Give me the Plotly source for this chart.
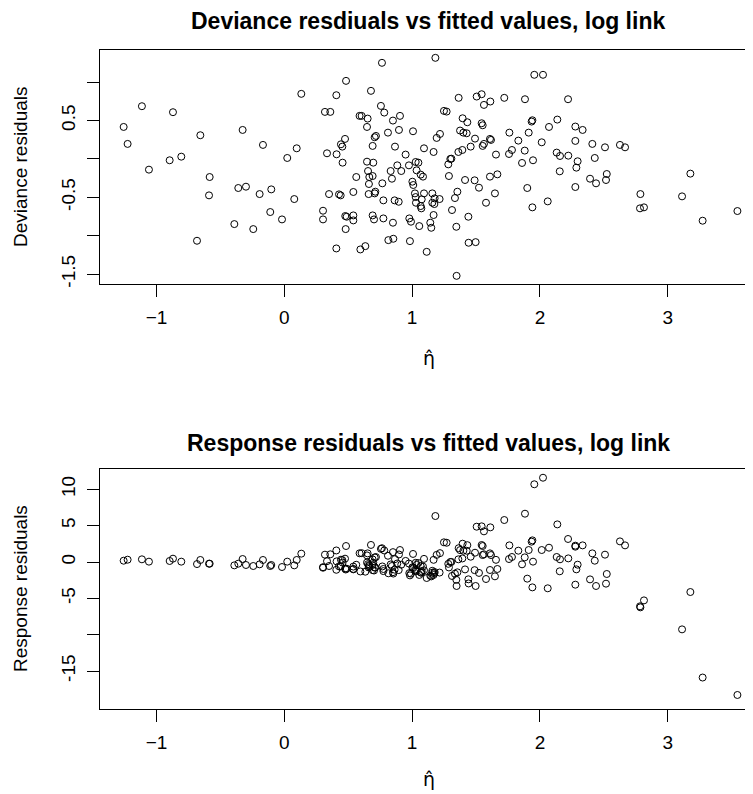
import plotly.graph_objects as go

# fitted linear predictor (eta hat)
eta_hat = [
    -1.257, -1.226, -1.114, -1.059, -0.897, -0.871, -0.806, -0.683, -0.657, -0.589,
    -0.584, -0.391, -0.360, -0.326, -0.300, -0.243, -0.193, -0.167, -0.102, -0.110,
    -0.018, 0.023, 0.097, 0.078, 0.133, 0.303, 0.303, 0.318, 0.360, 0.350,
    0.334, 0.407, 0.409, 0.407, 0.428, 0.441, 0.456, 0.443, 0.454, 0.475,
    0.483, 0.477, 0.488, 0.540, 0.540, 0.480, 0.540, 0.563, 0.589, 0.605,
    0.595, 0.634, 0.647, 0.652, 0.678, 0.647, 0.696, 0.655, 0.665, 0.691,
    0.662, 0.660, 0.707, 0.712, 0.691, 0.707, 0.717, 0.691, 0.702, 0.756,
    0.782, 0.764, 0.767, 0.775, 0.775, 0.811, 0.814, 0.853, 0.832, 0.842,
    0.850, 0.905, 0.850, 0.866, 0.863, 0.895, 0.884, 0.915, 0.897, 0.949,
    0.975, 0.978, 0.991, 0.983, 1.007, 1.002, 1.009, 1.028, 1.049, 1.035,
    1.067, 1.085, 1.022, 1.028, 1.075, 1.030, 1.067, 1.072, 1.093, 1.093,
    1.056, 1.114, 1.142, 1.150, 1.168, 1.168, 1.158, 1.158, 1.174, 1.215,
    1.176, 1.182, 1.192, 1.218, 1.249, 1.270, 1.283, 1.299, 1.307, 1.288,
    1.312, 1.335, 1.346, 1.348, 1.354, 1.364, 1.362, 1.393, 1.375, 1.401,
    1.427, 1.395, 1.432, 1.414, 1.440, 1.442, 1.497, 1.458, 1.492, 1.489,
    1.505, 1.523, 1.544, 1.562, 1.612, 1.544, 1.552, 1.552, 1.562, 1.609,
    1.617, 1.656, 1.609, 1.667, 1.578, 1.648, 1.721, 1.883, 1.956, 2.024,
    1.761, 1.831, 1.758, 1.781, 1.881, 1.860, 1.912, 1.935, 1.941, 1.946,
    2.014, 1.901, 1.941, 2.061, 2.071, 2.136, 2.220, 2.131, 2.157, 2.222,
    2.277, 2.334, 2.277, 2.295, 2.285, 2.155, 2.410, 2.429, 2.509, 2.626,
    2.666, 2.392, 2.439, 2.523, 2.517, 2.277, 2.786, 2.783, 2.814, 3.177,
    3.112, 3.273, 3.545,
]

dev_resid = [
    0.417, 0.196, 0.687, -0.139, -0.017, 0.609, 0.030, -1.065, 0.309, -0.474,
    -0.235, -0.848, -0.378, 0.378, -0.361, -0.913, -0.457, 0.183, -0.396, -0.691,
    -0.787, 0.013, 0.139, -0.522, 0.848, -0.674, -0.787, 0.613, 0.613, -0.457,
    0.074, 0.830, 0.061, -1.165, -0.461, -0.474, -0.048, 0.191, 0.161, 0.261,
    1.017, -0.743, -0.752, -0.735, -0.800, -0.913, -0.430, -0.235, 0.561, 0.561,
    -1.178, -1.135, 0.417, 0.526, 0.887, -0.035, -0.048, -0.157, -0.235, -0.222,
    -0.326, -0.457, -0.448, -0.426, 0.170, 0.283, 0.300, -0.735, -0.787, 0.691,
    0.604, 1.252, -0.317, -0.539, -0.774, 0.343, -1.057, -1.039, -0.157, -0.257,
    0.500, 0.561, -0.830, 0.161, -0.539, -0.557, -0.083, -0.157, 0.378, 0.057,
    -0.083, -0.774, -0.817, -1.070, 0.361, -0.296, -0.339, -0.039, -0.048, -0.148,
    -0.204, -0.230, -0.448, -0.496, -0.526, -0.570, -0.613, -0.643, 0.139, -0.448,
    -0.874, -1.209, -0.830, -0.896, 0.091, -0.730, -0.448, -0.570, -0.587, -0.522,
    -0.513, 1.317, 0.274, 0.326, 0.626, 0.617, -0.070, 0.000, 0.004, -0.222,
    -0.665, -0.509, -0.883, -1.522, -0.426, 0.796, 0.091, 0.117, 0.370, 0.343,
    0.335, 0.530, 0.478, -0.274, -0.752, -1.091, -1.083, 0.161, 0.265, -0.278,
    0.813, -0.374, 0.843, 0.704, 0.748, 0.465, 0.439, 0.170, 0.196, 0.261,
    0.248, 0.057, -0.230, -0.200, -0.570, -0.448, 0.796, 0.778, 1.096, 1.096,
    0.343, 0.239, 0.065, 0.117, 0.109, -0.052, 0.343, 0.487, 0.504, -0.017,
    0.217, -0.378, -0.630, -0.552, 0.417, 0.513, 0.778, 0.083, 0.039, 0.043,
    0.422, 0.378, 0.235, -0.030, -0.113, -0.161, 0.196, 0.013, 0.152, 0.183,
    0.152, -0.257, -0.317, -0.196, -0.274, -0.365, -0.457, -0.643, -0.630, -0.191,
    -0.487, -0.804, -0.678,
]

resp_resid = [
    0.18, 0.32, 0.37, 0.05, 0.14, 0.46, 0.05, -0.28, 0.28, -0.23,
    -0.23, -0.46, -0.23, 0.41, -0.41, -0.55, -0.32, 0.28, -0.41, -0.55,
    -0.69, 0.05, 0.28, -0.46, 1.15, -0.71, -0.79, 1.01, 1.06, -0.55,
    0.11, 1.59, 0.09, -1.07, -0.60, -0.62, -0.08, 0.32, 0.27, 0.46,
    2.20, -0.90, -0.92, -0.95, -1.01, -1.03, -0.63, -0.38, 1.20, 1.22,
    -1.30, -1.33, 0.91, 1.19, 2.35, -0.07, -0.10, -0.29, -0.42, -0.41,
    -0.56, -0.75, -0.77, -0.75, 0.36, 0.63, 0.68, -1.11, -1.17, 1.81,
    1.59, 1.90, -0.61, -0.96, -1.25, 0.86, -1.55, -1.59, -0.34, -0.55,
    1.36, 1.65, -1.40, 0.40, -1.05, -1.11, -0.20, -0.37, 1.04, 0.15,
    -0.21, -1.53, -1.60, -1.84, 1.11, -0.73, -0.83, -0.11, -0.14, -0.40,
    -0.55, -0.63, -1.06, -1.16, -1.27, -1.29, -1.42, -1.48, 0.43, -1.14,
    -1.78, -2.20, -1.88, -1.98, 0.30, -1.78, -1.21, -1.47, -1.53, -1.45,
    -1.38, 6.33, 0.98, 1.22, 2.71, 2.65, -0.25, 0.00, 0.01, -0.75,
    -1.92, -1.61, -2.45, -3.30, -1.42, 1.90, 0.37, 0.49, 1.64, 1.55,
    1.55, 2.52, 2.32, -1.02, -2.38, -2.95, -3.30, 0.73, 1.28, -1.12,
    4.86, -1.50, 4.91, 4.22, 4.77, 2.34, 2.20, 0.96, 1.06, 1.19,
    0.96, 0.30, -1.10, -0.96, -2.34, -1.97, 5.78, 6.65, 10.70, 11.60,
    2.29, 1.56, 0.41, 0.69, 0.64, -0.32, 1.65, 2.80, 2.98, 0.05,
    1.65, -2.29, -3.49, -3.62, 1.97, 5.18, 3.17, 0.69, 0.37, 0.50,
    2.25, 2.29, 2.11, -0.37, -1.01, -1.28, 1.19, 0.18, 1.01, 2.84,
    2.29, -2.39, -3.30, -1.65, -2.98, -3.12, -6.24, -6.10, -5.28, -4.13,
    -9.27, -15.90, -18.30,
]

x_ticks = [-1, 0, 1, 2, 3]
dev_ticks = [1.0, 0.5, 0.0, -0.5, -1.0, -1.5]
dev_ticktext = ["", "0.5", "", "-0.5", "", "-1.5"]
resp_ticks = [10, 5, 0, -5, -10, -15]
resp_ticktext = ["10", "5", "0", "-5", "", "-15"]

# the page adds an 8px body margin, so the figure is drawn 8px smaller
# and all page-pixel positions below are shifted by OFF
OFF = 8
W, H = 753 - OFF, 794 - OFF
FONT = "Liberation Sans, Arial, sans-serif"


def px(p):
    return (p - OFF) / W


def py(p):
    return 1 - (p - OFF) / H


marker = dict(symbol="circle-open", size=7, color="black", line=dict(width=1, color="black"))

fig = go.Figure()
fig.add_trace(go.Scatter(x=eta_hat, y=dev_resid, mode="markers", marker=marker,
                         xaxis="x", yaxis="y", showlegend=False))
fig.add_trace(go.Scatter(x=eta_hat, y=resp_resid, mode="markers", marker=marker,
                         xaxis="x2", yaxis="y2", showlegend=False))

xcommon = dict(
    range=[-1.442, 3.667], domain=[px(100), 1], tickvals=x_ticks,
    showline=True, mirror=True, linecolor="black", linewidth=1,
    ticks="outside", ticklen=12, tickcolor="black", showgrid=False, zeroline=False,
    tickfont=dict(family=FONT, size=19, color="black"), automargin=False,
    ticklabelstandoff=4,
)
ycommon = dict(
    showline=True, mirror=False, linecolor="black", linewidth=1,
    ticks="outside", ticklen=12, tickcolor="black", showgrid=False, zeroline=False,
    tickangle=-90, tickfont=dict(family=FONT, size=19, color="black"), automargin=False,
    ticklabelstandoff=4,
)

fig.update_layout(
    width=W, height=H,
    margin=dict(l=0, r=0, t=0, b=0),
    paper_bgcolor="white", plot_bgcolor="white",
    xaxis=dict(xcommon, anchor="y"),
    yaxis=dict(ycommon, range=[-1.632, 1.419], domain=[py(284.3), py(50)],
               tickvals=dev_ticks, ticktext=dev_ticktext, anchor="x"),
    xaxis2=dict(xcommon, anchor="y2"),
    yaxis2=dict(ycommon, range=[-20.23, 12.76], domain=[py(709), py(469.3)],
                tickvals=resp_ticks, ticktext=resp_ticktext, anchor="x2"),
)

ETA_HAT = "\u03b7\u0302"
ann = []
for text, xp, yp, size, angle, fam in [
    ("<b>Deviance resdiuals vs fitted values, log link</b>", 428, 21, 23, 0, FONT),
    ("<b>Response residuals vs fitted values, log link</b>", 428, 443, 23, 0, FONT),
    ("Deviance residuals", 20, 167, 19, -90, FONT),
    ("Response residuals", 20, 589, 19, -90, FONT),
    (ETA_HAT, 429, 358, 19, 0, "DejaVu Sans"),
    (ETA_HAT, 429, 779, 19, 0, "DejaVu Sans"),
]:
    ann.append(dict(text=text, x=px(xp), y=py(yp), xref="paper", yref="paper",
                    xanchor="center", yanchor="middle", showarrow=False, textangle=angle,
                    font=dict(family=fam, size=size, color="black")))
fig.update_layout(annotations=ann)

fig.write_html("out.html")
